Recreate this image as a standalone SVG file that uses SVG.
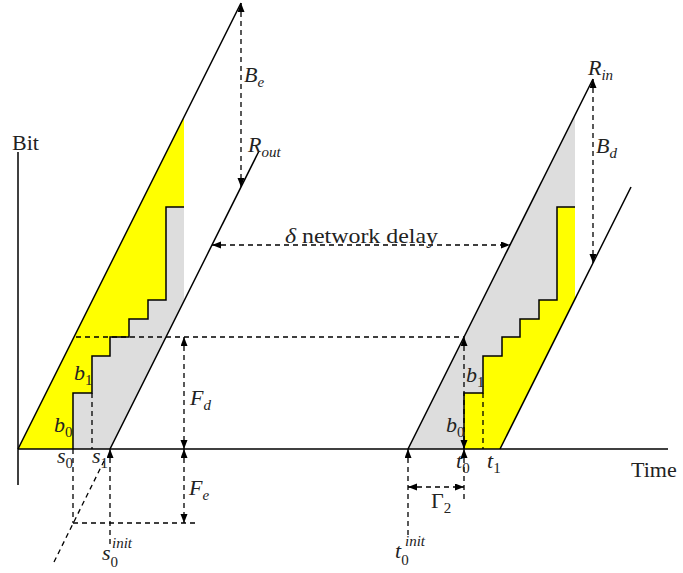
<svg xmlns="http://www.w3.org/2000/svg" width="683" height="573" viewBox="0 0 683 573">
<defs>
<marker id="ah" markerUnits="userSpaceOnUse" markerWidth="10" markerHeight="8" refX="9" refY="3.5" orient="auto-start-reverse"><path d="M0,0 L9,3.5 L0,7 z" fill="#000"/></marker>
<style>
.s{fill:none;stroke:#000;stroke-width:1.5}
.d{fill:none;stroke:#000;stroke-width:1.3;stroke-dasharray:5 4}
.a2{marker-start:url(#ah);marker-end:url(#ah)}
.a1{marker-start:url(#ah)}
text{font-family:"Liberation Serif","DejaVu Serif",serif;font-size:22px;fill:#222}
.m{font-style:italic}
.sb{font-size:15px;font-style:normal}
.si{font-size:15px;font-style:italic}
</style>
</defs>
<rect width="683" height="573" fill="#fff"/>
<g id="left-fill">
<path d="M18,449 L184,117 L184,207 L166,207 L166,300 L148,300 L148,319 L129,319 L129,337 L110,337 L110,356 L92,356 L92,393 L73,393 L73,449 Z" fill="#ffff00"/>
<path d="M73,449 L73,393 L92,393 L92,356 L110,356 L110,337 L129,337 L129,319 L148,319 L148,300 L166,300 L166,207 L184,207 L184,301 L110,449 Z" fill="#dddddd"/>
<path class="s" d="M73,449 V393 H92 V356 H110 V337 H129 V319 H148 V300 H166 V207 H184"/>
</g>
<g id="right-fill">
<path d="M408,449 L575,115 L575,207 L557,207 L557,300 L539,300 L539,319 L520,319 L520,337 L502,337 L502,356 L483,356 L483,393 L464,393 L464,449 Z" fill="#dddddd"/>
<path d="M464,449 V393 H483 V356 H502 V337 H520 V319 H539 V300 H557 V207 H575 V299 L500,449 Z" fill="#ffff00"/>
<path class="s" d="M464,449 V393 H483 V356 H502 V337 H520 V319 H539 V300 H557 V207 H575"/>
</g>
<g id="axes">
<path class="s" d="M18,152 V485"/>
<path class="s" d="M18,449 H668"/>
<text x="12" y="150">Bit</text>
<text x="631" y="477">Time</text>
</g>
<g id="curves">
<path class="s" d="M18,449 L241,3"/>
<path class="s" d="M110,449 L259,151"/>
<path class="s" d="M408,449 L593,79"/>
<path class="s" d="M500,449 L631,187"/>
</g>
<g id="connectors">
<path class="d" d="M76,337 H464"/>
<path class="d" d="M92,393 V449"/>
<path class="d" d="M73,449 V523"/>
<path class="d a1" d="M110,449 V548"/>
<path class="d" d="M54,562 L104,461"/>
<path class="d" d="M73,523 H199"/>
<path class="d a2" d="M184,337 V449"/>
<path class="d a2" d="M184,449 V523"/>
<path class="d a2" d="M241,3 V187"/>
<path class="d a2" d="M212,245 H510"/>
<path class="d a2" d="M464,337 V449"/>
<path class="d" d="M483,393 V449"/>
<path class="d a1" d="M464,449 V500"/>
<path class="d a1" d="M408,449 V538"/>
<path class="d a2" d="M408,487 H464"/>
<path class="d a2" d="M593,79 V263"/>
</g>
<g id="labels">
<text x="54" y="432" class="m">b<tspan class="sb" dy="5">0</tspan></text>
<text x="74" y="380" class="m">b<tspan class="sb" dy="5">1</tspan></text>
<text x="57" y="463" class="m">s<tspan class="sb" dy="5">0</tspan></text>
<text x="92" y="463" class="m">s<tspan class="sb" dy="5">1</tspan></text>
<text x="190" y="405" class="m">F<tspan class="si" dy="5">d</tspan></text>
<text x="189" y="495" class="m">F<tspan class="si" dy="5">e</tspan></text>
<text x="102" y="560" class="m">s<tspan class="sb" dy="7">0</tspan></text>
<text x="112" y="548" class="si">init</text>
<text x="395" y="558" class="m">t<tspan class="sb" dy="7">0</tspan></text>
<text x="405" y="546" class="si">init</text>
<text x="431" y="508">Γ<tspan class="sb" dy="5">2</tspan></text>
<text x="456" y="468" class="m">t<tspan class="sb" dy="5">0</tspan></text>
<text x="487" y="468" class="m">t<tspan class="sb" dy="5">1</tspan></text>
<text x="466" y="382" class="m">b<tspan class="sb" dy="5">1</tspan></text>
<text x="446" y="432" class="m">b<tspan class="sb" dy="5">0</tspan></text>
<text x="588" y="75" class="m">R<tspan class="si" dy="5">in</tspan></text>
<text x="596" y="153" class="m">B<tspan class="si" dy="5">d</tspan></text>
<text x="244" y="82" class="m">B<tspan class="si" dy="5">e</tspan></text>
<text x="248" y="152" class="m">R<tspan class="si" dy="5">out</tspan></text>
<text x="285" y="243" textLength="153" lengthAdjust="spacingAndGlyphs"><tspan class="m">δ</tspan> network delay</text>
</g>
</svg>
